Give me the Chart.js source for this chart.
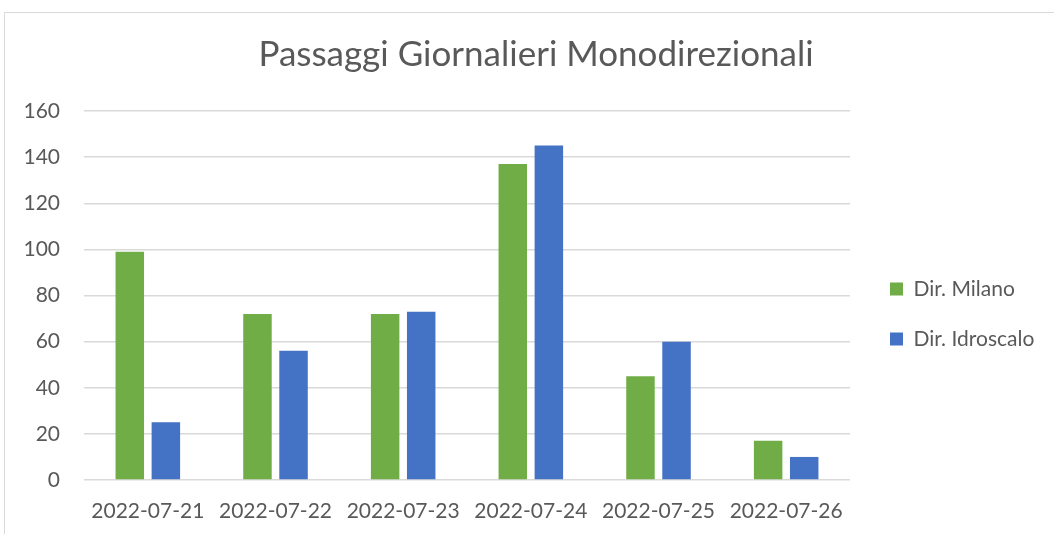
<!DOCTYPE html>
<html>
<head>
<meta charset="utf-8">
<script src="https://cdn.jsdelivr.net/npm/chart.js@4.4.1/dist/chart.umd.min.js"></script>
<style>
  html, body { margin: 0; padding: 0; background: #ffffff; }
  #wrap { position: relative; width: 1054px; height: 534px; overflow: hidden; }
  #frame { position: absolute; left: 4px; top: 12px; width: 1100px; height: 600px;
           border-left: 1px solid #d9d9d9; border-top: 1px solid #d9d9d9; }
  #c { position: absolute; left: 0; top: 0; }
</style>
</head>
<body>
<div id="wrap">
  <div id="frame"></div>
  <canvas id="c" width="1054" height="534"></canvas>
</div>
<script>
const titleText = 'Passaggi Giornalieri Monodirezionali';
const categories = ['2022-07-21', '2022-07-22', '2022-07-23', '2022-07-24', '2022-07-25', '2022-07-26'];
const seriesNames = ['Dir. Milano', 'Dir. Idroscalo'];
const milano = [99, 72, 72, 137, 45, 17];
const idroscalo = [25, 56, 73, 145, 60, 10];
const yTicks = [0, 20, 40, 60, 80, 100, 120, 140, 160];

const FONT = 'Lato, "Open Sans", sans-serif';
const TEXT = '#595959';
const GRID = '#d9d9d9';

const layoutTweaks = {
  id: 'layoutTweaks',
  beforeInit(chart) {
    const lg = chart.legend;
    const origFit = lg.fit;
    lg.fit = function () {
      origFit.call(this);
      this.width = 204;
    };
  },
  afterLayout(chart) {
    const lg = chart.legend;
    lg.left += 11; lg.right += 11;
    lg.top += 47; lg.bottom += 47;
    const tb = chart.titleBlock;
    tb.left += 9; tb.right += 9;
  }
};

new Chart(document.getElementById('c'), {
  type: 'bar',
  data: {
    labels: categories,
    datasets: [
      { label: seriesNames[0], data: milano, backgroundColor: '#70ad47',
        categoryPercentage: 0.565, barPercentage: 0.79 },
      { label: seriesNames[1], data: idroscalo, backgroundColor: '#4472c4',
        categoryPercentage: 0.565, barPercentage: 0.79 }
    ]
  },
  options: {
    responsive: false,
    animation: false,
    layout: { padding: 0 },
    plugins: {
      title: {
        display: true, text: titleText, color: TEXT,
        font: { family: FONT, size: 35, weight: 'normal' },
        padding: { top: 34, bottom: 35 }
      },
      legend: {
        display: true, position: 'right', align: 'center',
        labels: { color: TEXT, font: { family: FONT, size: 21 }, boxWidth: 13, boxHeight: 13, padding: 29 }
      },
      tooltip: { enabled: false }
    },
    scales: {
      x: {
        grid: { display: false, drawTicks: false },
        border: { display: false },
        ticks: { color: TEXT, font: { family: FONT, size: 21 }, padding: 19, maxRotation: 0 },
        afterFit(s) { s.height = 54; }
      },
      y: {
        min: 0, max: 160,
        afterBuildTicks(s) { s.ticks = yTicks.map(v => ({ value: v })); },
        grid: { color: GRID, lineWidth: 1.5, drawTicks: false },
        border: { display: false },
        ticks: { color: TEXT, font: { family: FONT, size: 21 }, padding: 24 },
        afterFit(s) { s.width = 84; }
      }
    }
  },
  plugins: [layoutTweaks]
});
</script>
</body>
</html>
